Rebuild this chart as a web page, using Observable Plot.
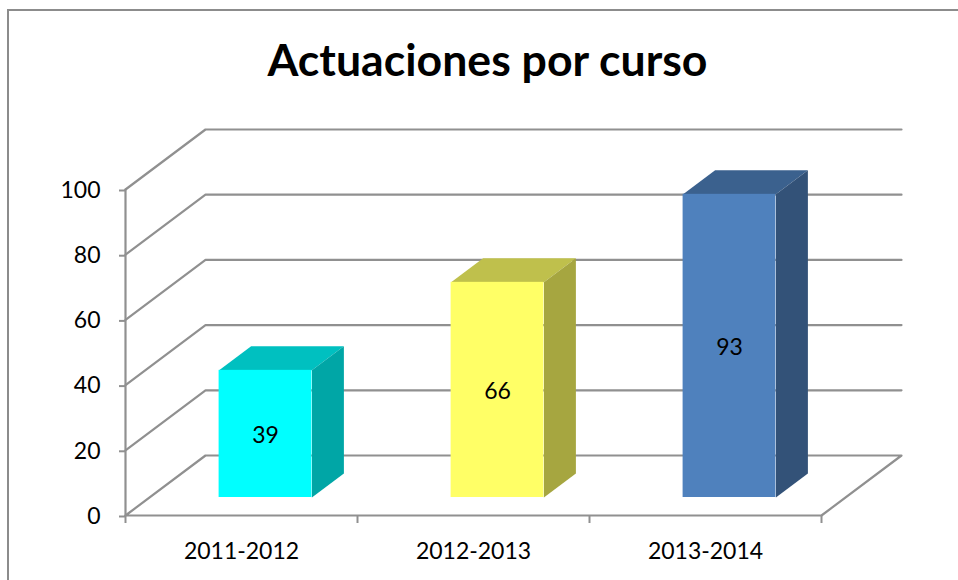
<!DOCTYPE html>
<html>
<head>
<meta charset="utf-8">
<script src="https://cdn.jsdelivr.net/npm/d3@7"></script>
<script src="https://cdn.jsdelivr.net/npm/@observablehq/plot@0.6"></script>
<style>
html,body{margin:0;padding:0;background:#fff;overflow:hidden}
#frame{position:absolute;left:7px;top:9px;width:951px;height:571px;border-left:2px solid #8c8c8c;border-top:2px solid #8c8c8c;box-sizing:border-box}
#chart{position:absolute;left:0;top:0}
</style>
</head>
<body>
<div id="frame"></div>
<div id="chart"></div>
<script>
const title = "Actuaciones por curso";
const categories = ["2011-2012", "2012-2013", "2013-2014"];
const values = [39, 66, 93];
const frontColors = ["#00ffff", "#ffff66", "#4f81bd"];
const topColors = ["#00c0c0", "#bfc04c", "#3b618e"];
const sideColors = ["#00a6a6", "#a6a640", "#335278"];
const gridValues = [0, 20, 40, 60, 80, 100];
const gapShare = 0.3;      // bar occupies the middle 40% of a category
const depthX = 80 / 232;   // wall depth, in category units
const depthY = 60 / 3.26;  // wall depth, in value units
const depthNear = 0.3, depthFar = 0.7;

const gridRows = gridValues.flatMap((v) => {
  const pts = [[0, v], [depthX, v + depthY], [3 + depthX, v + depthY]];
  if (v === 0) pts.push([3, 0], [0, 0]);
  return pts.map(([x, y]) => ({v, x, y}));
});
const wall = [[0, 0], [0, 100]].map(([x, y]) => ({x, y}));

const near = (i, v) => ({x: i + depthNear * depthX, y: v + depthNear * depthY});
const far = (i, v) => ({x: i + depthFar * depthX, y: v + depthFar * depthY});

const bars = values.map((v, c) => {
  const a = c + gapShare, b = c + 1 - gapShare;
  return {c, v, x1: near(a, 0).x, x2: near(b, 0).x, y1: near(a, 0).y, y2: near(a, v).y,
          lx: near(c + 0.5, 0).x, ly: near(c + 0.5, v / 2).y};
});
const faces = values.flatMap((v, c) => {
  const a = c + gapShare, b = c + 1 - gapShare;
  const topFace = [near(a, v), near(b, v), far(b, v), far(a, v)];
  const sideFace = [near(b, 0), far(b, 0), far(b, v), near(b, v)];
  return [
    ...topFace.map((p) => ({...p, key: "t" + c, color: topColors[c]})),
    ...sideFace.map((p) => ({...p, key: "s" + c, color: sideColors[c]}))
  ];
});

const font = "Lato, 'Open Sans', sans-serif";
const gray = "#909090";

const plot = Plot.plot({
  width: 958, height: 580,
  marginLeft: 125, marginRight: 57, marginTop: 129, marginBottom: 65,
  style: {fontFamily: font, background: "transparent", overflow: "visible"},
  color: {type: "identity"},
  x: {domain: [0, 3 + depthX], axis: null},
  y: {domain: [0, 100 + depthY], axis: null},
  marks: [
    Plot.line(gridRows, {x: "x", y: "y", z: "v", stroke: gray, strokeWidth: 2.2}),
    Plot.line(wall, {x: "x", y: "y", stroke: gray, strokeWidth: 2.2}),
    Plot.axisY({ticks: gridValues, tickSize: 6, tickPadding: 19, stroke: gray, strokeWidth: 2, fill: "#000", fontSize: 23, dy: 1, label: null, line: false}),
    Plot.axisX({ticks: [0, 1, 2, 3], tickSize: 8, tickFormat: () => "", stroke: gray, strokeWidth: 2, label: null}),
    Plot.axisX({ticks: [0.5, 1.5, 2.5], tickSize: 0, tickPadding: 27, tickFormat: (d) => categories[Math.floor(d)], fill: "#000", fontSize: 23, label: null}),
    Plot.line(faces, {x: "x", y: "y", z: "key", fill: "color", stroke: null}),
    Plot.rect(bars, {x1: "x1", x2: "x2", y1: "y1", y2: "y2", fill: (d) => frontColors[d.c]}),
    Plot.text(bars, {x: "lx", y: "ly", text: "v", fontSize: 23, dy: 2, fill: "#000"}),
    Plot.text([title], {frameAnchor: "top", dx: -26, dy: -68, fontSize: 44.6, fontWeight: 700, fill: "#000", lineAnchor: "middle"})
  ]
});
document.getElementById("chart").append(plot);
</script>
</body>
</html>
